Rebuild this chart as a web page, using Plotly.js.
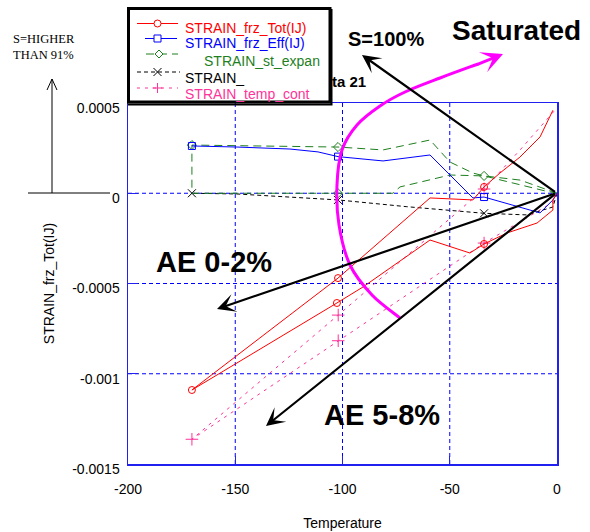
<!DOCTYPE html>
<html>
<head>
<meta charset="utf-8">
<script src="https://cdn.plot.ly/plotly-3.0.1.min.js"></script>
<style>html,body{margin:0;padding:0;background:#fff;}#chart{width:590px;height:532px;}</style>
</head>
<body>
<div id="chart"></div>
<script>
// ---------------- data ----------------
const seriesNames = ['STRAIN_frz_Tot(IJ)', 'STRAIN_frz_Eff(IJ)', 'STRAIN_st_expan', 'STRAIN_', 'STRAIN_temp_cont'];

// STRAIN_frz_Tot(IJ)
const totX = [0, -1.9, -1.9, -9.3, -23.3, -34.0, -40.6, -59.2, -90.4, -102.6, -170.2, -102.1, -59.2, -39.2, -34.0, -26.6, -17.3, -7.9, -1.9];
const totY = [0, -0.000037, -0.000093, -0.000165, -0.00022, -0.000281, -0.000331, -0.000259, -0.000519, -0.000608, -0.00109, -0.00047, -0.000026, -0.000037, 0.000035, 0.000112, 0.0002, 0.000312, 0.00046];
const totMarkX = [-34.0, -102.6, -170.2, -102.1, -34.0];
const totMarkY = [-0.000281, -0.000608, -0.00109, -0.00047, 0.000035];

// STRAIN_frz_Eff(IJ)
const effX = [0, -1.9, -7.9, -34.0, -39.2, -59.2, -81.1, -102.1, -111.4, -124.5, -149.2, -170.2];
const effY = [0, -0.000037, -0.000109, -0.000021, -0.000026, 0.000212, 0.000179, 0.000203, 0.000229, 0.000245, 0.000256, 0.000262];
const effMarkX = [-34.0, -102.1, -170.2];
const effMarkY = [-0.000021, 0.000203, 0.000262];

// STRAIN_st_expan
const expX = [0, -17.2, -34.0, -39.2, -49.9, -59.2, -81.1, -102.1, -170.2, -170.2, -102.1, -76.5, -73.2, -49.9, -34.0, -17.2, -5.6, 0];
const expY = [0, 0.000073, 0.000096, 0.000112, 0.000173, 0.000295, 0.00024, 0.000256, 0.000267, 0, 0, 0, 0.000035, 0.000101, 0.000096, 0.000046, 0.000013, 0];
const expMarkX = [-34.0, -102.1, -170.2, -102.1];
const expMarkY = [0.000096, 0.000256, 0.000267, 0];

// STRAIN_
const strX = [0, -1.9, -14, -34.0, -70.0, -102.1, -149.2, -170.2];
const strY = [0, -0.000076, -0.00012, -0.000111, -0.0000745, -0.000037, -0.000004, 0];
const strMarkX = [-34.0, -102.1, -170.2];
const strMarkY = [-0.000111, -0.000037, 0];

// STRAIN_temp_cont
const tmpX = [0, -1.9, -34.0, -102.0, -170.2, -102.0, -34.0, -17.2, -0.9];
const tmpY = [0, -0.00005, -0.000276, -0.000817, -0.001363, -0.000675, 0.0000235, 0.00024, 0.000461];
const tmpMarkX = [-34.0, -102.0, -170.2, -102.0, -34.0];
const tmpMarkY = [-0.000276, -0.000817, -0.001363, -0.000675, 0.0000235];

const xTicks = [-200, -150, -100, -50, 0];
const xTickText = ['-200', '-150', '-100', '-50', '0'];
const yTicks = [-0.0015, -0.001, -0.0005, 0, 0.0005];
const yTickText = ['-0.0015', '-0.001', '-0.0005', '0', '0.0005'];

// ---------------- styles ----------------
const RED = '#FF0000', BLUE = '#0000FF', GREEN = '#1E7F1E', BLACK = '#000000', PINK = '#FF3399', MAG = '#FF00FF';
const AXB = '#2020F0';
const FONT = 'Liberation Sans, Arial, sans-serif';

// pixel -> paper helpers (plot area 128..557 x 103..464)
const X0 = 128, X1 = 557, YT = 103, YB = 464;
const px = x => (x - X0) / (X1 - X0);
const py = y => (YB - y) / (YB - YT);

function lineTrace(x, y, color, dash) {
  return {x, y, type: 'scatter', mode: 'lines', showlegend: false, hoverinfo: 'skip',
          line: {color, width: 1, dash}};
}
function markTrace(x, y, color, symbol, size) {
  return {x, y, type: 'scatter', mode: 'markers', showlegend: false, hoverinfo: 'skip',
          marker: {color, symbol, size, line: {color, width: 1}}};
}

const traces = [
  lineTrace(tmpX, tmpY, PINK, '3px,5px'),
  markTrace(tmpMarkX, tmpMarkY, PINK, 'cross-thin-open', 9),
  lineTrace(strX, strY, BLACK, '4px,3px'),
  markTrace(strMarkX, strMarkY, BLACK, 'x-thin-open', 8),
  lineTrace(expX, expY, GREEN, '8px,5px'),
  markTrace(expMarkX, expMarkY, GREEN, 'diamond-open', 7),
  lineTrace(effX, effY, BLUE, 'solid'),
  markTrace(effMarkX, effMarkY, BLUE, 'square-open', 7),
  lineTrace(totX, totY, RED, 'solid'),
  markTrace(totMarkX, totMarkY, RED, 'circle-open', 7)
];

// ---------------- shapes ----------------
const shapes = [];
// dashed blue grid at the inner tick values
xTicks.slice(1, -1).forEach(v => shapes.push({type: 'line', xref: 'x', yref: 'paper', x0: v, x1: v, y0: 0, y1: 1,
  line: {color: BLUE, width: 1, dash: '4px,3px'}, layer: 'below'}));
yTicks.slice(1, -1).forEach(v => shapes.push({type: 'line', xref: 'paper', yref: 'y', x0: 0, x1: 1, y0: v, y1: v,
  line: {color: BLUE, width: 1, dash: '4px,3px'}, layer: 'below'}));

// magenta arc (smooth Catmull-Rom through pixel points)
const arc = [[400,318],[372,295],[350,265],[339,225],[337,185],[342,150],[357,125],[380,106],[405,92],[440,78],[478,64]];
let d = 'M' + px(arc[0][0]) + ',' + py(arc[0][1]);
for (let i = 0; i < arc.length - 1; i++) {
  const p0 = arc[Math.max(i - 1, 0)], p1 = arc[i], p2 = arc[i + 1], p3 = arc[Math.min(i + 2, arc.length - 1)];
  const c1 = [p1[0] + (p2[0] - p0[0]) / 6, p1[1] + (p2[1] - p0[1]) / 6];
  const c2 = [p2[0] - (p3[0] - p1[0]) / 6, p2[1] - (p3[1] - p1[1]) / 6];
  d += ' C' + px(c1[0]) + ',' + py(c1[1]) + ' ' + px(c2[0]) + ',' + py(c2[1]) + ' ' + px(p2[0]) + ',' + py(p2[1]);
}
shapes.push({type: 'path', xref: 'paper', yref: 'paper', path: d, line: {color: MAG, width: 3}, layer: 'above'});

// S=HIGHER arrow and baseline
const pth = pts => pts.map((p, i) => (i ? 'L' : 'M') + px(p[0]) + ',' + py(p[1])).join(' ');
shapes.push({type: 'path', xref: 'paper', yref: 'paper', path: pth([[52,193],[52,79]]), line: {color: BLACK, width: 1}});
shapes.push({type: 'path', xref: 'paper', yref: 'paper', path: pth([[47,90],[52,79],[57,90]]), line: {color: BLACK, width: 1}});
shapes.push({type: 'path', xref: 'paper', yref: 'paper', path: pth([[28,193],[110,193]]), line: {color: BLACK, width: 1}});

// legend box
shapes.push({type: 'rect', xref: 'paper', yref: 'paper', x0: px(128.5), x1: px(330), y0: py(102), y1: py(8.5),
             fillcolor: '#ffffff', line: {color: BLACK, width: 3}, layer: 'above'});
shapes.push({type: 'path', xref: 'paper', yref: 'paper', path: pth([[331.5,9],[331.5,104.5],[128,104.5]]),
             line: {color: BLACK, width: 2}, layer: 'above'});

// legend symbols
const rowLineY = [23.5, 38.5, 54, 72, 88];
const rowTextY = [28, 43.5, 61, 78, 94];
const rowTextX = [183, 183, 202, 183, 183];
const rowColors = [RED, BLUE, GREEN, BLACK, PINK];
const rowDash = ['solid', 'solid', '8px,5px', '4px,3px', '3px,5px'];
const rowLineX = [[137,178],[145,177],[146,178],[137,180],[137,178]];
for (let i = 0; i < 5; i++) {
  shapes.push({type: 'line', xref: 'paper', yref: 'paper', x0: px(rowLineX[i][0]), x1: px(rowLineX[i][1]),
               y0: py(rowLineY[i]), y1: py(rowLineY[i]), line: {color: rowColors[i], width: 1, dash: rowDash[i]}, layer: 'above'});
}
const sx = 157.5;
shapes.push({type: 'circle', xref: 'paper', yref: 'paper', x0: px(sx - 3.5), x1: px(sx + 3.5), y0: py(rowLineY[0] + 3.5), y1: py(rowLineY[0] - 3.5),
             fillcolor: '#ffffff', line: {color: RED, width: 1}, layer: 'above'});
shapes.push({type: 'rect', xref: 'paper', yref: 'paper', x0: px(sx - 3.5), x1: px(sx + 3.5), y0: py(rowLineY[1] + 3.5), y1: py(rowLineY[1] - 3.5),
             fillcolor: '#ffffff', line: {color: BLUE, width: 1}, layer: 'above'});
const dy = rowLineY[2], dx = 159;
shapes.push({type: 'path', xref: 'paper', yref: 'paper', path: pth([[dx - 4, dy],[dx, dy - 4],[dx + 4, dy],[dx, dy + 4]]) + ' Z',
             fillcolor: '#ffffff', line: {color: GREEN, width: 1}, layer: 'above'});
const xy = rowLineY[3];
shapes.push({type: 'path', xref: 'paper', yref: 'paper', path: pth([[sx - 4, xy - 4],[sx + 4, xy + 4]]) + ' ' + pth([[sx - 4, xy + 4],[sx + 4, xy - 4]]),
             line: {color: BLACK, width: 1}, layer: 'above'});
const cy = rowLineY[4];
shapes.push({type: 'path', xref: 'paper', yref: 'paper', path: pth([[sx, cy - 5],[sx, cy + 5]]) + ' ' + pth([[sx - 5, cy],[sx + 5, cy]]),
             line: {color: PINK, width: 1}, layer: 'above'});

// ---------------- annotations ----------------
const ann = [];
for (let i = 0; i < 5; i++) {
  ann.push({xref: 'paper', yref: 'paper', x: px(rowTextX[i]), y: py(rowTextY[i]), xanchor: 'left', yanchor: 'middle',
            text: seriesNames[i], showarrow: false, font: {family: FONT, size: 14, color: rowColors[i]}});
}
function txt(t, x, y, size, bold, anchor, family, color) {
  return {xref: 'paper', yref: 'paper', x: px(x), y: py(y), xanchor: anchor || 'left', yanchor: 'middle', showarrow: false,
          text: bold ? '<b>' + t + '</b>' : t, font: {family: family || FONT, size, color: color || BLACK}};
}
ann.push(txt('ta 21', 330, 82, 15, true));
ann.push(txt('S=100%', 346, 39, 20, true));
ann.push(txt('Saturated', 450, 31, 28, true));
ann.push(txt('AE 0-2%', 154, 262, 29, true));
ann.push(txt('AE 5-8%', 322, 415, 29, true));
ann.push(txt('S=HIGHER', 11, 39, 12.5, false, 'left', 'Liberation Serif, Times New Roman, serif'));
ann.push(txt('THAN 91%', 11, 55, 12.5, false, 'left', 'Liberation Serif, Times New Roman, serif'));

function arrow(tip, tail, color, width, size) {
  return {xref: 'paper', yref: 'paper', x: px(tip[0]), y: py(tip[1]), ax: tail[0] - tip[0], ay: tail[1] - tip[1],
          axref: 'pixel', ayref: 'pixel', text: '', showarrow: true, arrowhead: 3, arrowsize: size, arrowwidth: width, arrowcolor: color};
}
const origin = [556.5, 193];
ann.push(arrow([362, 55], origin, BLACK, 2.2, 1.4));
ann.push(arrow([217, 309], origin, BLACK, 2.2, 1.4));
ann.push(arrow([266, 426], origin, BLACK, 2.2, 1.4));
ann.push(arrow([503, 54], [476, 65], MAG, 3, 1.2));

// ---------------- layout ----------------
const axisCommon = {
  showline: true, linecolor: AXB, linewidth: 1.5, mirror: true,
  showgrid: false, zeroline: false, ticks: 'inside', tickcolor: AXB, tickwidth: 1,
  tickfont: {family: FONT, size: 14, color: BLACK}, fixedrange: true
};
const layout = {
  width: 590, height: 532,
  margin: {l: 128, r: 33, t: 103, b: 68, pad: 0},
  paper_bgcolor: '#ffffff', plot_bgcolor: '#ffffff',
  showlegend: false,
  xaxis: Object.assign({}, axisCommon, {
    range: [-200, 0], tickmode: 'array', tickvals: xTicks, ticktext: xTickText, ticklen: 8, ticklabelstandoff: 12,
    title: {text: 'Temperature', font: {family: FONT, size: 14, color: BLACK}, standoff: 22}
  }),
  yaxis: Object.assign({}, axisCommon, {
    range: [-0.0015, 0.0005], tickmode: 'array', tickvals: yTicks, ticktext: yTickText, ticklen: 10,
    ticklabelstandoff: 4, ticklabelshift: 5,
    title: {text: 'STRAIN_frz_Tot(IJ)', font: {family: FONT, size: 14, color: BLACK}, standoff: 14}
  }),
  shapes, annotations: ann
};

Plotly.newPlot('chart', traces, layout, {staticPlot: true, displayModeBar: false});
</script>
</body>
</html>
